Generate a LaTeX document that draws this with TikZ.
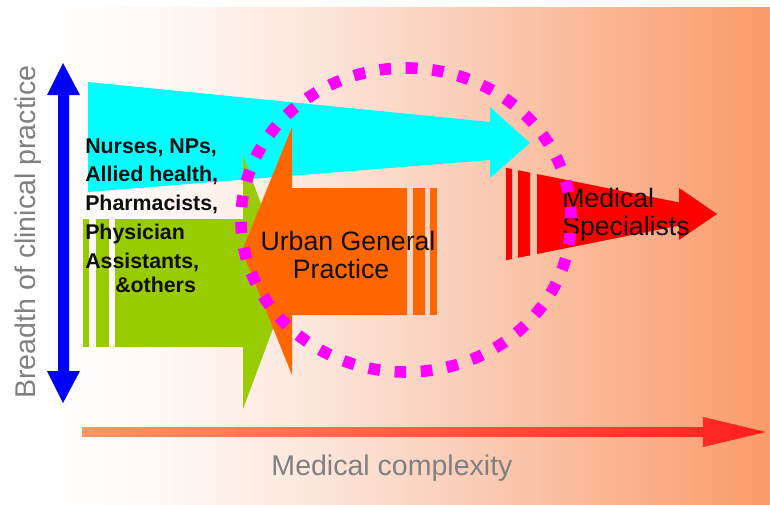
\documentclass[tikz,border=0pt]{standalone}
\usepackage{fontspec}
\setmainfont{Liberation Sans}
\definecolor{bgA}{RGB}{255,249,246}
\definecolor{bgB}{RGB}{252,232,222}
\definecolor{bgC}{RGB}{250,208,188}
\definecolor{bgD}{RGB}{250,182,148}
\definecolor{bgE}{RGB}{250,155,105}
\definecolor{bluearrow}{RGB}{0,0,255}
\definecolor{cyanarrow}{RGB}{0,255,255}
\definecolor{greenarrow}{RGB}{153,204,0}
\definecolor{orangearrow}{RGB}{255,102,0}
\definecolor{redarrow}{RGB}{255,0,0}
\definecolor{ringcol}{RGB}{255,0,255}
\definecolor{axisgray}{RGB}{128,128,128}
\definecolor{botL}{RGB}{255,150,100}
\definecolor{botM}{RGB}{255,110,70}
\definecolor{botR}{RGB}{255,30,30}
\definecolor{inkcol}{RGB}{15,15,15}
\pgfdeclarehorizontalshading{bgshade}{100bp}{color(0bp)=(white); color(27.6bp)=(white); color(34.7bp)=(bgA); color(44.5bp)=(bgB); color(54.2bp)=(bgC); color(64bp)=(bgD); color(75bp)=(bgE); color(100bp)=(bgE)}
\begin{document}
\begin{tikzpicture}[x=0.75pt,y=-0.75pt,
  grouplbl/.style={inner sep=0pt, text=inkcol, font=\fontsize{16}{19}\selectfont\bfseries, anchor=base west},
  biglbl/.style={inner sep=0pt, text=inkcol, font=\fontsize{20}{24}\selectfont},
  axislbl/.style={inner sep=0pt, text=axisgray, font=\fontsize{21.4}{25}\selectfont}]
\useasboundingbox (0,0) rectangle (770,504);
\fill[white] (0,0) rectangle (770,504);
\shade[shading=bgshade] (0,7) rectangle (770,504);

% vertical double arrow (breadth)
\fill[bluearrow] (63,63) -- (80,95) -- (69,95) -- (69,371) -- (80,371) -- (63,403)
  -- (47,371) -- (58,371) -- (58,95) -- (47,95) -- cycle;

% cyan tapered arrow
\fill[cyanarrow] (88,82) -- (490,122) -- (490,107) -- (530,143) -- (490,178) -- (490,160) -- (88,192) -- cycle;

% green arrow with stripes
\fill[greenarrow] (83,219) rectangle (89,347);
\fill[greenarrow] (96,219) rectangle (109,347);
\fill[greenarrow] (115,219) -- (243,219) -- (243,155) -- (290,283) -- (243,409) -- (243,347) -- (115,347) -- cycle;

% orange arrow (pointing left) with stripes
\fill[orangearrow] (413,188) rectangle (425,315);
\fill[orangearrow] (430,188) rectangle (437,315);
\fill[orangearrow] (407,188) -- (292,188) -- (292,127) -- (242,251) -- (292,375) -- (292,315) -- (407,315) -- cycle;

% red tapered arrow with stripes
\fill[redarrow] (506,167.8) -- (512,169) -- (512,259) -- (506,260.2) -- cycle;
\fill[redarrow] (518,170.2) -- (530,172.6) -- (530,255.4) -- (518,257.8) -- cycle;
\fill[redarrow] (537,174) -- (679,202.4) -- (679,188) -- (717,214) -- (679,240) -- (679,225.6) -- (537,254) -- cycle;

% horizontal arrow (complexity)
\shade[left color=botL, middle color=botM, right color=botR]
  (82,427) -- (703,427) -- (703,417) -- (766,432) -- (703,447) -- (703,437) -- (82,437) -- cycle;

% labels
\node[grouplbl] (l1) at (85,153) {Nurses, NPs,};
\node[grouplbl] (l2) at (85,181) {Allied health,};
\node[grouplbl] (l3) at (85,210) {Pharmacists,};
\node[grouplbl] (l4) at (85,239) {Physician};
\node[grouplbl] (l5) at (85,268) {Assistants,};
\node[grouplbl] (l6) at (115,292) {\&others};

\node[biglbl, anchor=base] (u1) at (348,250) {Urban General};
\node[biglbl, anchor=base] (u2) at (341,278) {Practice};

\node[biglbl, anchor=base west] (m1) at (562,207) {Medical};
\node[biglbl, anchor=base west] (m2) at (562,235) {Specialists};

\node[axislbl, anchor=base] (xl) at (392,475) {Medical complexity};
\node[axislbl, anchor=base, rotate=90] (yl) at (35,232) {Breadth of clinical practice};

% dotted ring
\draw[ringcol, line width=8.7pt, dash pattern=on 8.7pt off 10.96pt]
  (406,68) arc[start angle=270, end angle=630, x radius=165, y radius=152];
\end{tikzpicture}
\end{document}
